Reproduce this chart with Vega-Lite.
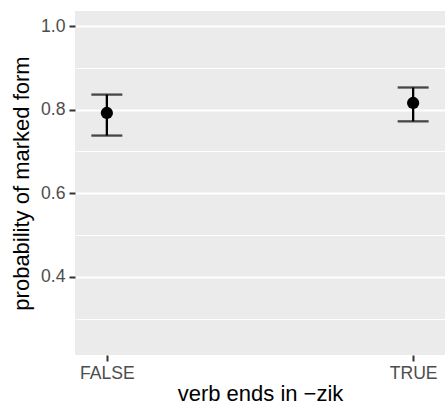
{
  "$schema": "https://vega.github.io/schema/vega-lite/v6.json",
  "width": 370,
  "height": 344,
  "autosize": {"type": "none"},
  "padding": {"left": 75, "top": 11, "right": 0, "bottom": 53},
  "background": "white",
  "config": {
    "font": "Liberation Sans",
    "view": {"fill": "#EBEBEB", "stroke": null},
    "axis": {
      "domain": false,
      "labelFont": "Liberation Sans",
      "titleFont": "Liberation Sans",
      "labelColor": "#4D4D4D",
      "labelFontSize": 17.6,
      "titleFontSize": 22,
      "titleFontWeight": "normal",
      "titleColor": "black",
      "tickColor": "#333333",
      "tickWidth": 2,
      "tickSize": 6,
      "gridColor": "white"
    }
  },
  "data": {
    "values": [
      {"zik": "FALSE", "p": 0.792, "lo": 0.738, "hi": 0.836},
      {"zik": "TRUE", "p": 0.816, "lo": 0.772, "hi": 0.853}
    ]
  },
  "encoding": {
    "x": {
      "field": "zik",
      "type": "nominal",
      "scale": {"type": "point", "padding": 0.104, "domain": ["FALSE", "TRUE"]},
      "axis": {
        "title": "verb ends in \u2212zik",
        "labelAngle": 0,
        "grid": false,
        "labelPadding": 3,
        "titlePadding": 2
      }
    }
  },
  "layer": [
    {
      "mark": {"type": "rule", "color": "black", "strokeWidth": 2.3},
      "encoding": {
        "y": {
          "field": "lo",
          "type": "quantitative",
          "scale": {"domain": [0.213, 1.036], "nice": false, "zero": false},
          "axis": {
            "title": "probability of marked form",
            "values": [0.3, 0.4, 0.5, 0.6, 0.7, 0.8, 0.9, 1.0],
            "labelExpr": "round(datum.value*10) % 2 == 0 ? format(datum.value, '.1f') : ''",
            "grid": true,
            "gridWidth": {"condition": {"test": "round(datum.value*10) % 2 == 0", "value": 2}, "value": 1},
            "tickOpacity": {"condition": {"test": "round(datum.value*10) % 2 == 0", "value": 1}, "value": 0},
            "labelPadding": 4,
            "titlePadding": 7
          }
        },
        "y2": {"field": "hi"}
      }
    },
    {
      "mark": {"type": "tick", "color": "black", "thickness": 2.3, "size": 31, "orient": "horizontal"},
      "encoding": {"y": {"field": "lo", "type": "quantitative"}}
    },
    {
      "mark": {"type": "tick", "color": "black", "thickness": 2.3, "size": 31, "orient": "horizontal"},
      "encoding": {"y": {"field": "hi", "type": "quantitative"}}
    },
    {
      "mark": {"type": "circle", "color": "black", "opacity": 1, "size": 150},
      "encoding": {"y": {"field": "p", "type": "quantitative"}}
    }
  ]
}
